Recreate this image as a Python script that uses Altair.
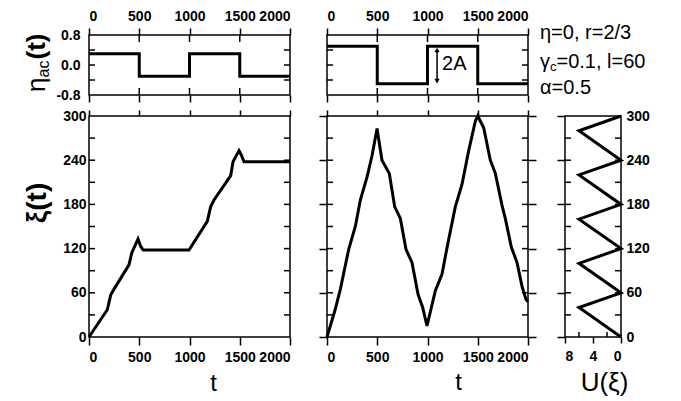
import altair as alt
import pandas as pd

FONT = "Liberation Sans"

# ---------------- data ----------------
t_switch = [0, 500, 1000, 1500, 2000]
eta_left = [0.3, -0.3, 0.3, -0.3, -0.3]
eta_mid = [0.5, -0.5, 0.5, -0.5, -0.5]

t_left = [0, 182, 216, 249, 398, 425, 448, 488, 514, 540, 995, 1177, 1211, 1244, 1410, 1433, 1493, 1516, 1542, 2000]
xi_left = [0, 37, 57, 65, 98, 114, 121, 133, 123, 118, 118, 157, 177, 186, 219, 238, 253, 247, 238, 238]

t_mid = [0, 83, 133, 216, 282, 332, 398, 448, 498, 547, 620, 673, 730, 786, 846, 906, 952, 995,
         1078, 1144, 1194, 1277, 1343, 1410, 1476, 1500, 1559, 1625, 1675, 1741, 1774, 1834, 1891, 1940, 1980, 2000]
xi_mid = [0, 38, 65, 119, 150, 186, 217, 246, 283, 240, 222, 177, 161, 119, 101, 58, 40, 15,
          63, 85, 121, 177, 207, 253, 293, 300, 284, 240, 222, 179, 161, 122, 101, 69, 51, 48]

xi_pot = [0, 40, 60, 100, 120, 160, 180, 220, 240, 280, 300]
u_pot = [0, 6, 0, 6, 0, 6, 0, 6, 0, 6, 0]

t_ticks = [0, 500, 1000, 1500, 2000]
t_inner = [500, 1000, 1500]
eta_ticks = [-0.8, 0.0, 0.8]
eta_minor = [-0.4, 0.0, 0.4]
xi_ticks = [0, 60, 120, 180, 240, 300]
xi_minor = [30, 60, 90, 120, 150, 180, 210, 240, 270]
u_ticks = [0, 4, 8]
u_minor = [2, 6]

arrow_t = [1095]
arrow_top = [0.40]
arrow_bot = [-0.43]
arrow_label = ["2A"]
arrow_label_y = [0.03]

eta_title_parts = ["η", "ac", "(t)"]
xi_title = "ξ(t)"
t_title = "t"
u_title = "U(ξ)"
param_line1 = "η=0, r=2/3"
param_line2 = ["γ", "c", "=0.1, l=60"]
param_line3 = "α=0.5"

# ---------------- layout sizes ----------------
W0, W2 = 201, 56
H0, H1 = 60, 221

t_sc = alt.Scale(domain=[0, 2000], nice=False, zero=False)
eta_sc = alt.Scale(domain=[-0.8, 0.8], nice=False)
xi_sc = alt.Scale(domain=[0, 300], nice=False)
u_sc = alt.Scale(domain=[0, 8], nice=False, reverse=True)

AX = dict(labelFont=FONT, labelFontSize=14, labelFontWeight="bold", labelColor="black", tickColor="black",
          tickWidth=1.5, domain=False, grid=False, titleFont=FONT, titleColor="black",
          titleFontWeight="normal")


def txt(s, x, y, size, weight="normal", angle=0, align="center", baseline="middle"):
    kw = dict(font=FONT, fontSize=size, fontWeight=weight, align=align, baseline=baseline, color="black")
    if angle:
        kw["angle"] = angle
    return alt.Chart(pd.DataFrame({"s": [s]})).mark_text(**kw).encode(
        text="s:N", x=alt.value(x), y=alt.value(y))


def vticks(values, scale, side, width, length=6):
    x0 = 0 if side == "left" else width - length
    return alt.Chart(pd.DataFrame({"v": values})).mark_rule(color="black", strokeWidth=1.5).encode(
        y=alt.Y("v:Q", scale=scale, axis=None), x=alt.value(x0), x2=alt.value(x0 + length))


def hticks(values, scale, side, height, length=6):
    y0 = 0 if side == "top" else height - length
    return alt.Chart(pd.DataFrame({"v": values})).mark_rule(color="black", strokeWidth=1.5).encode(
        x=alt.X("v:Q", scale=scale, axis=None), y=alt.value(y0), y2=alt.value(y0 + length))


eta_fmt = "(datum.value < 0 ? '-' : '') + format(abs(datum.value), '.1f')"

# ---------------- panel A: eta_ac(t), left ----------------
dfA = pd.DataFrame({"t": t_switch, "eta": eta_left})
a_line = alt.Chart(dfA).mark_line(interpolate="step-after", color="black", strokeWidth=3).encode(
    x=alt.X("t:Q", scale=t_sc, axis=alt.Axis(orient="bottom", values=t_ticks, labels=False, tickSize=7, title=None, **AX)),
    y=alt.Y("eta:Q", scale=eta_sc, axis=alt.Axis(orient="left", values=eta_ticks, labelExpr=eta_fmt, ticks=False,
                                                  labelPadding=9, title=None, **AX)))
a_top = alt.Chart(dfA).mark_line(opacity=0).encode(
    x=alt.X("t:Q", scale=t_sc, axis=alt.Axis(orient="top", values=t_ticks, format="d", tickSize=7, labelPadding=5,
                                              title=None, **AX)),
    y=alt.Y("eta:Q", scale=eta_sc, axis=None))
A = alt.layer(
    a_line, a_top,
    vticks(eta_minor, eta_sc, "left", W0), vticks(eta_minor, eta_sc, "right", W0),
    hticks(t_inner, t_sc, "top", H0, 7), hticks(t_inner, t_sc, "bottom", H0, 7),
    txt(eta_title_parts[0], -52, 57, 26, align="left", angle=270),
    txt(eta_title_parts[1], -45, 42.5, 16, align="left", angle=270),
    txt(eta_title_parts[2], -52, 24.5, 26, weight="bold", align="left", angle=270),
).resolve_axis(x="independent", y="independent").properties(width=W0, height=H0)

# ---------------- panel B: eta_ac(t), middle ----------------
dfB = pd.DataFrame({"t": t_switch, "eta": eta_mid})
b_line = alt.Chart(dfB).mark_line(interpolate="step-after", color="black", strokeWidth=3).encode(
    x=alt.X("t:Q", scale=t_sc, axis=alt.Axis(orient="bottom", values=t_ticks, labels=False, tickSize=7, title=None, **AX)),
    y=alt.Y("eta:Q", scale=eta_sc, axis=None))
b_top = alt.Chart(dfB).mark_line(opacity=0).encode(
    x=alt.X("t:Q", scale=t_sc, axis=alt.Axis(orient="top", values=t_ticks, format="d", tickSize=7, labelPadding=5,
                                              title=None, **AX)),
    y=alt.Y("eta:Q", scale=eta_sc, axis=None))
dfArrow = pd.DataFrame({"t": arrow_t, "y1": arrow_top, "y2": arrow_bot, "lab": arrow_label, "ly": arrow_label_y})
b_rule = alt.Chart(dfArrow).mark_rule(color="black", strokeWidth=1.5).encode(
    x=alt.X("t:Q", scale=t_sc, axis=None), y=alt.Y("y1:Q", scale=eta_sc, axis=None), y2="y2:Q")
b_head1 = alt.Chart(dfArrow).mark_point(shape="triangle-up", filled=True, size=28, color="black", opacity=1).encode(
    x=alt.X("t:Q", scale=t_sc, axis=None), y=alt.Y("y1:Q", scale=eta_sc, axis=None))
b_head2 = alt.Chart(dfArrow).mark_point(shape="triangle-down", filled=True, size=28, color="black", opacity=1).encode(
    x=alt.X("t:Q", scale=t_sc, axis=None), y=alt.Y("y2:Q", scale=eta_sc, axis=None))
b_lab = alt.Chart(dfArrow).mark_text(font=FONT, fontSize=20, align="left", baseline="middle", dx=5, color="black").encode(
    x=alt.X("t:Q", scale=t_sc, axis=None), y=alt.Y("ly:Q", scale=eta_sc, axis=None), text="lab:N")
B = alt.layer(
    b_line, b_top, b_rule, b_head1, b_head2, b_lab,
    vticks(eta_minor, eta_sc, "left", W0), vticks(eta_minor, eta_sc, "right", W0),
    hticks(t_inner, t_sc, "top", H0, 7), hticks(t_inner, t_sc, "bottom", H0, 7),
).resolve_axis(x="independent", y="independent").properties(width=W0, height=H0)

# ---------------- panel F: parameter text ----------------
F = alt.layer(
    txt(param_line1, -25, -2, 20, align="left"),
    txt(param_line2[0], -25, 27, 20, align="left"),
    txt(param_line2[1], -15, 32, 13, align="left"),
    txt(param_line2[2], -8.5, 27, 20, align="left"),
    txt(param_line3, -25, 53, 20, align="left"),
).properties(width=W2, height=H0, view=alt.ViewBackground(stroke="transparent"))

# ---------------- panel C: xi(t), left ----------------
dfC = pd.DataFrame({"t": t_left, "xi": xi_left})
c_line = alt.Chart(dfC).mark_line(color="black", strokeWidth=3).encode(
    x=alt.X("t:Q", scale=t_sc, axis=alt.Axis(orient="bottom", values=t_ticks, format="d", tickSize=8, labelPadding=5,
                                              title=t_title, titleFontSize=24, titleX=124, titleY=46,
                                              titleBaseline="middle", titleAlign="center", **AX)),
    y=alt.Y("xi:Q", scale=xi_sc, axis=alt.Axis(orient="left", values=xi_ticks, ticks=False, labelPadding=3,
                                                title=None, **AX)))
c_top = alt.Chart(dfC).mark_line(opacity=0).encode(
    x=alt.X("t:Q", scale=t_sc, axis=alt.Axis(orient="top", values=t_ticks, tickSize=6, labels=False, title=None, **AX)),
    y=alt.Y("xi:Q", scale=xi_sc, axis=None))
C = alt.layer(
    c_line, c_top,
    vticks(xi_minor, xi_sc, "left", W0), vticks(xi_minor, xi_sc, "right", W0),
    txt(xi_title, -51, 87, 28, weight="bold", angle=270),
).resolve_axis(x="independent", y="independent").properties(width=W0, height=H1)

# ---------------- panel D: xi(t), middle ----------------
dfD = pd.DataFrame({"t": t_mid, "xi": xi_mid})
d_line = alt.Chart(dfD).mark_line(color="black", strokeWidth=3).encode(
    x=alt.X("t:Q", scale=t_sc, axis=alt.Axis(orient="bottom", values=t_ticks, format="d", tickSize=8, labelPadding=5,
                                              title=t_title, titleFontSize=24, titleX=131, titleY=45,
                                              titleBaseline="middle", titleAlign="center", **AX)),
    y=alt.Y("xi:Q", scale=xi_sc, axis=alt.Axis(orient="left", values=xi_ticks, tickSize=8, labels=False,
                                                title=None, **AX)))
d_top = alt.Chart(dfD).mark_line(opacity=0).encode(
    x=alt.X("t:Q", scale=t_sc, axis=alt.Axis(orient="top", values=t_ticks, tickSize=6, labels=False, title=None, **AX)),
    y=alt.Y("xi:Q", scale=xi_sc, axis=alt.Axis(orient="right", values=xi_ticks, tickSize=8, labels=False,
                                                title=None, **AX)))
D = alt.layer(
    d_line, d_top,
    vticks(xi_minor, xi_sc, "left", W0), vticks(xi_minor, xi_sc, "right", W0),
).resolve_axis(x="independent", y="independent").properties(width=W0, height=H1)

# ---------------- panel E: U(xi) ----------------
dfE = pd.DataFrame({"u": u_pot, "xi": xi_pot})
e_line = alt.Chart(dfE).mark_line(color="black", strokeWidth=3).encode(
    x=alt.X("u:Q", scale=u_sc, axis=alt.Axis(orient="bottom", values=u_ticks, tickSize=6, labelPadding=6,
                                              title=u_title, titleFontSize=26, titleX=39, titleY=45,
                                              titleBaseline="middle", titleAlign="center", **AX)),
    y=alt.Y("xi:Q", scale=xi_sc, axis=alt.Axis(orient="left", values=xi_ticks, tickSize=8, labels=False,
                                                title=None, **AX)),
    order=alt.Order("xi:Q"))
e_right = alt.Chart(dfE).mark_line(opacity=0).encode(
    x=alt.X("u:Q", scale=u_sc, axis=None),
    y=alt.Y("xi:Q", scale=xi_sc, axis=alt.Axis(orient="right", values=xi_ticks, ticks=False, labelPadding=5,
                                                title=None, **AX)),
    order=alt.Order("xi:Q"))
E = alt.layer(
    e_line, e_right,
    vticks(xi_minor, xi_sc, "left", W2), vticks(xi_minor, xi_sc, "right", W2),
    hticks(u_minor, u_sc, "bottom", H1, 5),
).resolve_axis(x="independent", y="independent").properties(width=W2, height=H1)

chart = alt.concat(
    A, B, F, C, D, E, columns=3, spacing={"row": 21, "column": 37}, bounds="flush", align="each"
).properties(
    padding={"left": 15, "top": 0, "right": 0, "bottom": 0}, background="white"
).configure_view(stroke="black", strokeWidth=1.5)

chart.save("out.html", embed_options={"renderer": "svg", "actions": False})
